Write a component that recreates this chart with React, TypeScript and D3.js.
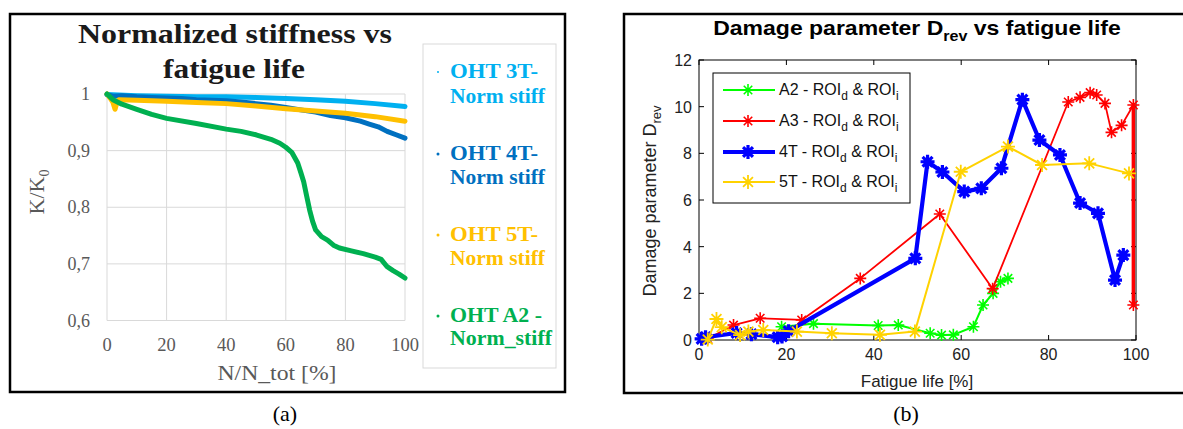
import React from "react";
import * as d3 from "d3";

// ---------- Panel (a): normalized stiffness ----------
const stiffXTicks = [0, 20, 40, 60, 80, 100];
const stiffYTicks = [0.6, 0.7, 0.8, 0.9, 1];

const stiff3T: [number, number][] = [
  [0, 0.999], [10, 0.997], [20, 0.996], [30, 0.995], [40, 0.995], [50, 0.994],
  [60, 0.992], [70, 0.99], [80, 0.987], [90, 0.983], [100, 0.978],
];
const stiff4T: [number, number][] = [
  [0, 0.999], [2, 0.996], [5, 0.997], [10, 0.995], [15, 0.994], [20, 0.993],
  [25, 0.992], [30, 0.99], [35, 0.989], [40, 0.988], [45, 0.986], [50, 0.983],
  [55, 0.98], [60, 0.976], [65, 0.972], [70, 0.968], [75, 0.962], [80, 0.958],
  [85, 0.952], [88, 0.947], [91, 0.942], [94, 0.934], [97, 0.928], [100, 0.922],
];
const stiff5T: [number, number][] = [
  [0, 1], [1, 0.993], [2, 0.985], [2.7, 0.973], [3.3, 0.985], [4, 0.99],
  [10, 0.989], [20, 0.987], [30, 0.985], [40, 0.983], [50, 0.979], [60, 0.974],
  [70, 0.97], [80, 0.966], [90, 0.96], [100, 0.952],
];
const stiffA2: [number, number][] = [
  [0, 1], [2, 0.99], [5, 0.982], [10, 0.973], [15, 0.964], [20, 0.957],
  [30, 0.948], [40, 0.938], [45, 0.934], [50, 0.928], [55, 0.92], [58, 0.913],
  [60, 0.906], [62, 0.897], [64, 0.878], [65, 0.862], [66, 0.845], [67, 0.82],
  [68, 0.795], [69, 0.775], [70, 0.76], [72, 0.748], [74, 0.742], [76, 0.733],
  [78, 0.728], [82, 0.723], [86, 0.718], [90, 0.712], [92, 0.708], [94, 0.695],
  [96, 0.688], [98, 0.682], [100, 0.675],
];
const stiffSeries = [
  { name1: "OHT 3T-", name2: "Norm stiff", color: "#00b0f0", data: stiff3T },
  { name1: "OHT 4T-", name2: "Norm stiff", color: "#0070c0", data: stiff4T },
  { name1: "OHT 5T-", name2: "Norm stiff", color: "#ffc000", data: stiff5T },
  { name1: "OHT A2 -", name2: "Norm_stiff", color: "#00b050", data: stiffA2 },
];

// ---------- Panel (b): damage parameter ----------
const dmgXTicks = [0, 20, 40, 60, 80, 100];
const dmgYTicks = [0, 2, 4, 6, 8, 10, 12];

const dmgA2: [number, number][] = [
  [18.9, 0.57], [26.2, 0.7], [41, 0.62], [45.6, 0.64], [52.9, 0.29],
  [55.5, 0.21], [58.2, 0.22], [62.8, 0.57], [65, 1.5], [67.3, 2.0],
  [69, 2.5], [70.7, 2.64],
];
const dmgA3: [number, number][] = [
  [2, 0.05], [7.9, 0.64], [14, 0.93], [23.5, 0.86], [36.9, 2.64],
  [55.1, 5.4], [67.2, 2.2], [84.5, 10.2], [87.2, 10.4], [89.5, 10.6],
  [91, 10.5], [92.9, 10.14], [94.4, 8.9], [96.7, 9.2], [99.4, 10.07], [99.4, 1.5],
];
const dmg4T: [number, number][] = [
  [0.6, 0.05], [1.5, 0.12], [8.6, 0.3], [12, 0.25], [18, 0.12], [19, 0.15],
  [20.5, 0.38], [49.5, 3.5], [52.3, 7.64], [55.7, 7.2], [60.7, 6.36],
  [64.6, 6.5], [69.2, 7.36], [74, 10.3], [77.9, 8.57], [82.6, 7.93],
  [87.2, 5.87], [91.3, 5.43], [95.2, 2.57], [97.1, 3.64],
];
const dmg5T: [number, number][] = [
  [2, 0.02], [4, 0.9], [5.2, 0.55], [9.4, 0.21], [11.3, 0.36], [14.7, 0.43],
  [22.4, 0.36], [30.4, 0.29], [41.4, 0.22], [49.4, 0.36], [59.9, 7.21],
  [70.7, 8.29], [78.5, 7.5], [89.3, 7.57], [98.4, 7.14],
];
const dmgSeries = [
  { label: "A2", color: "#00ff00", data: dmgA2, lw: 2, mr: 6, mw: 1.6 },
  { label: "A3", color: "#ff0000", data: dmgA3, lw: 1.8, mr: 6, mw: 1.6 },
  { label: "4T", color: "#0000ff", data: dmg4T, lw: 4.2, mr: 7, mw: 3.2 },
  { label: "5T", color: "#ffd200", data: dmg5T, lw: 2, mr: 7, mw: 1.8 },
];

function starPath(r: number) {
  const d = r * 0.707;
  return `M${-r},0L${r},0M0,${-r}L0,${r}M${-d},${-d}L${d},${d}M${-d},${d}L${d},${-d}`;
}

export default function App() {
  // panel (a) scales
  const ax = d3.scaleLinear().domain([0, 100]).range([107, 405]);
  const ay = d3.scaleLinear().domain([0.6, 1]).range([320.5, 94]);
  const aLine = d3.line<[number, number]>().x((d) => ax(d[0])).y((d) => ay(d[1]));
  const fmtA = (v: number) => (v === 1 ? "1" : d3.format(".1f")(v).replace(".", ","));

  // panel (b) scales
  const bx = d3.scaleLinear().domain([0, 100]).range([699, 1136]);
  const by = d3.scaleLinear().domain([0, 12]).range([340, 60]);
  const bLine = d3.line<[number, number]>().x((d) => bx(d[0])).y((d) => by(d[1]));

  const serif = "'Liberation Serif', 'Times New Roman', serif";
  const sans = "'Liberation Sans', Arial, Helvetica, sans-serif";

  const legendBaselines = [[78, 103], [160, 184], [241, 265], [322, 345]];
  const legendLens = [[88, 95], [88, 95], [88, 95], [92, 102]];
  const bLegendY = [90, 121, 152, 182];

  const a3Last = dmgA3.slice(-2);

  return (
    <svg
      width={1183}
      height={429}
      style={{ position: "absolute", left: 0, top: 0, background: "#fff" }}
    >
      <rect x={0} y={0} width={1183} height={429} fill="#fff" />

      {/* ================= Panel (a) ================= */}
      <rect x={10} y={14} width={555} height={378} fill="#fff" stroke="#000" strokeWidth={2.5} />
      {stiffXTicks.map((t) => (
        <line key={"gx" + t} x1={ax(t)} x2={ax(t)} y1={ay(1)} y2={ay(0.6)} stroke="#d9d9d9" strokeWidth={1} />
      ))}
      {stiffYTicks.map((t) => (
        <line key={"gy" + t} x1={ax(0)} x2={ax(100)} y1={ay(t)} y2={ay(t)} stroke="#d9d9d9" strokeWidth={1} />
      ))}
      {stiffYTicks.map((t) => (
        <text key={"yl" + t} x={90} y={ay(t) + 6} textAnchor="end" fontFamily={serif} fontSize={18} fill="#595959">
          {fmtA(t)}
        </text>
      ))}
      {stiffXTicks.map((t) => (
        <text key={"xl" + t} x={ax(t)} y={351} textAnchor="middle" fontFamily={serif} fontSize={18.5} fill="#595959">
          {t}
        </text>
      ))}
      <text x={277} y={380} textAnchor="middle" fontFamily={serif} fontSize={20} fill="#595959" textLength={119} lengthAdjust="spacingAndGlyphs">
        N/N_tot [%]
      </text>
      <text transform="translate(44,192) rotate(-90)" textAnchor="middle" fontFamily={serif} fontSize={22} fill="#595959">
        K/K<tspan dy={5} fontSize={14}>0</tspan>
      </text>
      <text x={235} y={43} textAnchor="middle" fontFamily={serif} fontSize={27} fontWeight="bold" fill="#1a1a1a" textLength={314} lengthAdjust="spacingAndGlyphs">
        Normalized stiffness vs
      </text>
      <text x={234} y={78} textAnchor="middle" fontFamily={serif} fontSize={27} fontWeight="bold" fill="#1a1a1a" textLength={142} lengthAdjust="spacingAndGlyphs">
        fatigue life
      </text>
      {stiffSeries.map((s) => (
        <path key={s.name1} d={aLine(s.data) || ""} fill="none" stroke={s.color} strokeWidth={5} strokeLinejoin="round" strokeLinecap="round" />
      ))}
      <rect x={423} y={44} width={133} height={324} fill="#fff" stroke="#d9d9d9" strokeWidth={1} />
      {stiffSeries.map((s, i) => (
        <g key={"lg" + i}>
          <circle cx={438} cy={legendBaselines[i][0] - 6} r={i === 0 ? 1 : 1.5} fill={s.color} />
          <text x={450} y={legendBaselines[i][0]} fontFamily={serif} fontSize={20} fontWeight="bold" fill={s.color} textLength={legendLens[i][0]} lengthAdjust="spacingAndGlyphs">
            {s.name1}
          </text>
          <text x={450} y={legendBaselines[i][1]} fontFamily={serif} fontSize={20} fontWeight="bold" fill={s.color} textLength={legendLens[i][1]} lengthAdjust="spacingAndGlyphs">
            {s.name2}
          </text>
        </g>
      ))}
      <text x={285} y={421} textAnchor="middle" fontFamily={serif} fontSize={22} fill="#000">
        (a)
      </text>

      {/* ================= Panel (b) ================= */}
      <rect x={624} y={14} width={600} height={379} fill="#fff" stroke="#000" strokeWidth={2.5} />
      <g transform="translate(917,35) scale(1.15,1)">
        <text textAnchor="middle" fontFamily={sans} fontSize={20} fontWeight="bold" fill="#000">
          Damage parameter D<tspan dy={6} fontSize={14}>rev</tspan>
          <tspan dy={-6}> vs fatigue life</tspan>
        </text>
      </g>
      <rect x={bx(0)} y={by(12)} width={bx(100) - bx(0)} height={by(0) - by(12)} fill="none" stroke="#000" strokeWidth={1} />
      {dmgXTicks.map((t) => (
        <g key={"bxt" + t}>
          <line x1={bx(t)} x2={bx(t)} y1={by(0)} y2={by(0) - 5} stroke="#000" />
          <line x1={bx(t)} x2={bx(t)} y1={by(12)} y2={by(12) + 5} stroke="#000" />
          <text x={bx(t)} y={360} textAnchor="middle" fontFamily={sans} fontSize={16} fill="#222">
            {t}
          </text>
        </g>
      ))}
      {dmgYTicks.map((t) => (
        <g key={"byt" + t}>
          <line x1={bx(0)} x2={bx(0) + 5} y1={by(t)} y2={by(t)} stroke="#000" />
          <line x1={bx(100)} x2={bx(100) - 5} y1={by(t)} y2={by(t)} stroke="#000" />
          <text x={692} y={by(t) + 6} textAnchor="end" fontFamily={sans} fontSize={16} fill="#222">
            {t}
          </text>
        </g>
      ))}
      <text x={917} y={387} textAnchor="middle" fontFamily={sans} fontSize={17} fill="#222">
        Fatigue life [%]
      </text>
      <text transform="translate(656,201) rotate(-90)" textAnchor="middle" fontFamily={sans} fontSize={18} fill="#222">
        Damage parameter D<tspan dy={5} fontSize={13}>rev</tspan>
      </text>
      {dmgSeries.map((s) => (
        <g key={s.label}>
          <path d={bLine(s.data) || ""} fill="none" stroke={s.color} strokeWidth={s.lw} strokeLinejoin="round" />
          {s.label === "A3" && (
            <path d={bLine(a3Last as [number, number][]) || ""} fill="none" stroke={s.color} strokeWidth={3.5} />
          )}
          {s.data.map((p, j) => (
            <path key={j} d={starPath(s.mr)} transform={`translate(${bx(p[0])},${by(p[1])})`} stroke={s.color} strokeWidth={s.mw} fill="none" />
          ))}
        </g>
      ))}
      <rect x={713} y={73} width={197} height={130} fill="#fff" stroke="#000" strokeWidth={1} />
      {dmgSeries.map((s, i) => (
        <g key={"bl" + i}>
          <line x1={723} x2={775} y1={bLegendY[i]} y2={bLegendY[i]} stroke={s.color} strokeWidth={s.lw} />
          <path d={starPath(s.mr)} transform={`translate(748,${bLegendY[i]})`} stroke={s.color} strokeWidth={s.mw} fill="none" />
          <text x={779} y={bLegendY[i] + 5} fontFamily={sans} fontSize={16} fill="#111">
            {s.label} - ROI<tspan dy={5} fontSize={12}>d</tspan>
            <tspan dy={-5}> &amp; ROI</tspan>
            <tspan dy={5} fontSize={12}>i</tspan>
          </text>
        </g>
      ))}
      <text x={906} y={421} textAnchor="middle" fontFamily={serif} fontSize={22} fill="#000">
        (b)
      </text>
    </svg>
  );
}
